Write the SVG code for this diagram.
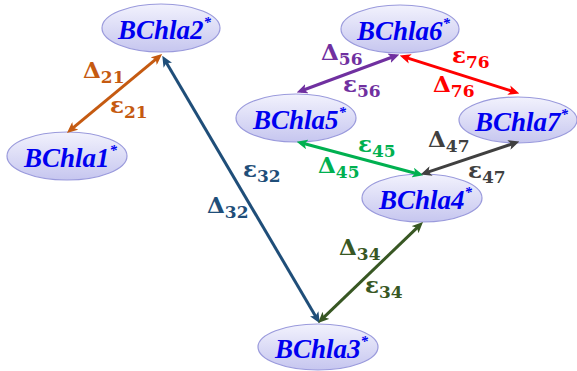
<svg xmlns="http://www.w3.org/2000/svg" width="577" height="371" viewBox="0 0 577 371">
<style>
.node ellipse{fill:url(#g);stroke:#9A9ADC;stroke-width:1.2}
.nt{font-family:'Liberation Serif','Times New Roman','DejaVu Serif',serif;font-weight:700;font-style:italic;font-size:27px;fill:#0000F0}
.st{font-size:15px}
.lb{font-family:'DejaVu Serif','Liberation Serif',serif;font-weight:700;font-size:23px}
.sb{font-size:17px}
.c line{stroke-width:3;fill:none}
</style>
<defs>
<linearGradient id="g" x1="0" y1="0" x2="0" y2="1">
<stop offset="0" stop-color="#F2F2FD"/>
<stop offset="1" stop-color="#C6C6EF"/>
</linearGradient>
<marker id="mo" viewBox="0 0 10 9" refX="6" refY="4.5" markerWidth="11" markerHeight="10" markerUnits="userSpaceOnUse" orient="auto-start-reverse"><path d="M0,0 L10,4.5 L0,9 L2.5,4.5 z" fill="#C55A11"/></marker>
<marker id="mn" viewBox="0 0 10 9" refX="6" refY="4.5" markerWidth="11" markerHeight="10" markerUnits="userSpaceOnUse" orient="auto-start-reverse"><path d="M0,0 L10,4.5 L0,9 L2.5,4.5 z" fill="#1F4E79"/></marker>
<marker id="md" viewBox="0 0 10 9" refX="6" refY="4.5" markerWidth="11" markerHeight="10" markerUnits="userSpaceOnUse" orient="auto-start-reverse"><path d="M0,0 L10,4.5 L0,9 L2.5,4.5 z" fill="#385723"/></marker>
<marker id="mp" viewBox="0 0 10 9" refX="6" refY="4.5" markerWidth="11" markerHeight="10" markerUnits="userSpaceOnUse" orient="auto-start-reverse"><path d="M0,0 L10,4.5 L0,9 L2.5,4.5 z" fill="#7030A0"/></marker>
<marker id="mr" viewBox="0 0 10 9" refX="6" refY="4.5" markerWidth="11" markerHeight="10" markerUnits="userSpaceOnUse" orient="auto-start-reverse"><path d="M0,0 L10,4.5 L0,9 L2.5,4.5 z" fill="#FF0000"/></marker>
<marker id="mg" viewBox="0 0 10 9" refX="6" refY="4.5" markerWidth="11" markerHeight="10" markerUnits="userSpaceOnUse" orient="auto-start-reverse"><path d="M0,0 L10,4.5 L0,9 L2.5,4.5 z" fill="#00B050"/></marker>
<marker id="mk" viewBox="0 0 10 9" refX="6" refY="4.5" markerWidth="11" markerHeight="10" markerUnits="userSpaceOnUse" orient="auto-start-reverse"><path d="M0,0 L10,4.5 L0,9 L2.5,4.5 z" fill="#404040"/></marker>
</defs>
<rect width="577" height="371" fill="#FFFFFF"/>
<g id="n1" class="node"><ellipse cx="67" cy="156" rx="60" ry="24"/><text class="nt" x="24" y="167">BChla1<tspan class="st" dy="-12">*</tspan></text></g>
<g id="n2" class="node"><ellipse cx="161" cy="28" rx="59" ry="24"/><text class="nt" x="118" y="39">BChla2<tspan class="st" dy="-12">*</tspan></text></g>
<g id="n3" class="node"><ellipse cx="318" cy="347" rx="60" ry="23"/><text class="nt" x="275" y="358">BChla3<tspan class="st" dy="-12">*</tspan></text></g>
<g id="n4" class="node"><ellipse cx="422" cy="198" rx="60" ry="24"/><text class="nt" x="379" y="209">BChla4<tspan class="st" dy="-12">*</tspan></text></g>
<g id="n5" class="node"><ellipse cx="296" cy="118" rx="60" ry="24"/><text class="nt" x="253" y="129">BChla5<tspan class="st" dy="-12">*</tspan></text></g>
<g id="n6" class="node"><ellipse cx="400" cy="29" rx="59" ry="24"/><text class="nt" x="357" y="40">BChla6<tspan class="st" dy="-12">*</tspan></text></g>
<g id="n7" class="node"><ellipse cx="518" cy="120" rx="59" ry="23"/><text class="nt" x="475" y="131">BChla7<tspan class="st" dy="-12">*</tspan></text></g>
<g id="connectors" class="c">
<line x1="70.3" y1="130.1" x2="158.7" y2="56.9" stroke="#C55A11" marker-start="url(#mo)" marker-end="url(#mo)"/>
<line x1="164.5" y1="59.6" x2="317.5" y2="319.4" stroke="#1F4E79" marker-start="url(#mn)" marker-end="url(#mn)"/>
<line x1="321.2" y1="319.9" x2="419.8" y2="225.1" stroke="#385723" marker-start="url(#md)" marker-end="url(#md)"/>
<line x1="300.8" y1="91" x2="395.2" y2="56" stroke="#7030A0" marker-start="url(#mp)" marker-end="url(#mp)"/>
<line x1="403.9" y1="56.9" x2="515.1" y2="92.1" stroke="#FF0000" marker-start="url(#mr)" marker-end="url(#mr)"/>
<line x1="300.9" y1="142.8" x2="419.1" y2="174.2" stroke="#00B050" marker-start="url(#mg)" marker-end="url(#mg)"/>
<line x1="424.8" y1="173.1" x2="515.2" y2="142.9" stroke="#404040" marker-start="url(#mk)" marker-end="url(#mk)"/>
</g>
<g id="labels" class="lb">
<text x="83" y="78" fill="#C55A11">Δ<tspan class="sb" dy="5">21</tspan></text>
<text x="110" y="113" fill="#C55A11">ε<tspan class="sb" dy="5">21</tspan></text>
<text x="243" y="177" fill="#1F4E79">ε<tspan class="sb" dy="5">32</tspan></text>
<text x="207" y="213" fill="#1F4E79">Δ<tspan class="sb" dy="5">32</tspan></text>
<text x="339" y="255" fill="#385723">Δ<tspan class="sb" dy="5">34</tspan></text>
<text x="365" y="293" fill="#385723">ε<tspan class="sb" dy="5">34</tspan></text>
<text x="321" y="60" fill="#7030A0">Δ<tspan class="sb" dy="5">56</tspan></text>
<text x="343" y="92" fill="#7030A0">ε<tspan class="sb" dy="5">56</tspan></text>
<text x="452" y="63" fill="#FF0000">ε<tspan class="sb" dy="5">76</tspan></text>
<text x="433" y="92" fill="#FF0000">Δ<tspan class="sb" dy="5">76</tspan></text>
<text x="358" y="152" fill="#00B050">ε<tspan class="sb" dy="5">45</tspan></text>
<text x="318" y="173" fill="#00B050">Δ<tspan class="sb" dy="5">45</tspan></text>
<text x="428" y="147" fill="#404040">Δ<tspan class="sb" dy="5">47</tspan></text>
<text x="468" y="178" fill="#404040">ε<tspan class="sb" dy="5">47</tspan></text>
</g>
</svg>
